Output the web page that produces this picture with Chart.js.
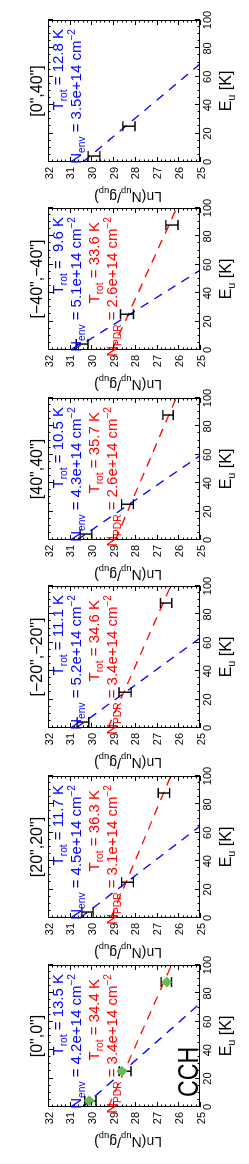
<!DOCTYPE html>
<html><head><meta charset="utf-8">
<script src="https://cdn.jsdelivr.net/npm/chart.js@4.4.0/dist/chart.umd.min.js"></script>
<style>
html,body{margin:0;padding:0;background:#fff;overflow:hidden;width:249px;height:1164px;}
#fig{position:absolute;left:0;top:0;width:1164px;height:249px;transform-origin:0 0;transform:translateY(1164px) rotate(-90deg);background:#fff;}
.panel{position:absolute;top:0;width:200px;height:249px;}
canvas{display:block;}
</style></head><body><div id="fig"></div>
<script>
// ---- data (panels in original left-to-right order) ----
const panelTitles = ['[0",0"]', '[20",20"]', '[\u221220",\u221220"]', '[40",40"]', '[\u221240",\u221240"]', '[0",40"]'];
const energyLevels = [4.2, 25.2, 88.0];
const lnObserved = [
  [30.05, 28.45, 26.55],
  [30.18, 28.34, 26.66],
  [30.39, 28.45, 26.56],
  [30.25, 28.34, 26.47],
  [30.43, 28.36, 26.29],
  [29.88, 28.27]
];
const lnErrors = [
  [0.26, 0.27, 0.24],
  [0.26, 0.27, 0.26],
  [0.27, 0.28, 0.26],
  [0.27, 0.27, 0.24],
  [0.27, 0.30, 0.28],
  [0.27, 0.28]
];
const modelEnergies = [4.4, 25.2, 88.0];
const modelLn = [30.10, 28.60, 26.53];
const tEnv = [13.5, 11.7, 11.1, 10.5, 9.6, 12.8];
const nEnv = ['4.2e+14', '4.5e+14', '5.2e+14', '4.3e+14', '5.1e+14', '3.5e+14'];
const envIntercept = [30.40, 30.53, 30.71, 30.66, 30.85, 30.39];
const tPdr = [34.4, 36.3, 34.6, 35.7, 33.6, null];
const nPdr = ['3.4e+14', '3.1e+14', '3.4e+14', '2.6e+14', '2.6e+14', null];
const pdrIntercept = [29.22, 29.10, 29.24, 28.90, 29.05, null];
const eTicks = [0, 20, 40, 60, 80, 100];
const lnTicks = [25, 26, 27, 28, 29, 30, 31, 32];
const moleculeLabel = 'CCH';

// ---- layout ----
const boxLeft = [57, 246, 436, 624, 814, 1002];
const LEFT_AXIS = 46, BOX_W = 142, CANVAS_W = 200, CANVAS_H = 249, TOP = 48, BOTTOM_AXIS = 49;
const FONT = '"Liberation Sans", Arial, Helvetica, sans-serif';

function richWidth(ctx, runs, size) {
  let w = 0;
  for (const r of runs) {
    const fs = r.s ? size * 0.68 : size;
    ctx.font = fs + 'px ' + FONT;
    w += ctx.measureText(r.t).width;
  }
  return w;
}
function drawRich(ctx, runs, x, y, size, color, align) {
  const w = richWidth(ctx, runs, size);
  let cx = align === 'right' ? x - w : (align === 'center' ? x - w / 2 : x);
  ctx.fillStyle = color;
  ctx.textBaseline = 'alphabetic';
  ctx.textAlign = 'left';
  for (const r of runs) {
    const fs = r.s ? size * 0.68 : size;
    ctx.font = fs + 'px ' + FONT;
    let dy = 0;
    if (r.s === 'sub') dy = size * 0.28;
    if (r.s === 'sup') dy = -size * 0.42;
    ctx.fillText(r.t, cx, y + dy);
    cx += ctx.measureText(r.t).width;
  }
}
function fmtT(t) { return (t < 10 ? ' ' : '') + t.toFixed(1); }

const framePlugin = {
  id: 'frame',
  afterDatasetDraw(chart, args) {
    const ds = chart.data.datasets[args.index];
    if (!ds.errors) return;
    const ctx = chart.ctx, ys = chart.scales.y;
    const meta = args.meta;
    ctx.save();
    ctx.strokeStyle = '#000';
    ctx.lineWidth = 1.4;
    meta.data.forEach((el, i) => {
      const v = ds.data[i].y, e = ds.errors[i];
      const y1 = ys.getPixelForValue(v + e), y2 = ys.getPixelForValue(v - e);
      ctx.beginPath();
      ctx.moveTo(el.x, y1); ctx.lineTo(el.x, y2);
      ctx.moveTo(el.x - 5, y1); ctx.lineTo(el.x + 5, y1);
      ctx.moveTo(el.x - 5, y2); ctx.lineTo(el.x + 5, y2);
      ctx.stroke();
    });
    ctx.restore();
  },
  afterDraw(chart) {
    const ctx = chart.ctx, ca = chart.chartArea;
    const xs = chart.scales.x, ys = chart.scales.y;
    const p = chart.options.plugins.frame;
    ctx.save();
    ctx.strokeStyle = '#000';
    ctx.lineWidth = 1;
    ctx.strokeRect(ca.left + 0.5, ca.top + 0.5, ca.right - ca.left - 1, ca.bottom - ca.top - 1);
    ctx.beginPath();
    // E_u ticks (major every 20, minor every 5)
    for (let k = 0; k < eTicks.length; k++) {
      const v0 = eTicks[k];
      const n = k < eTicks.length - 1 ? 4 : 1;
      for (let m = 0; m < n; m++) {
        const v = v0 + m * ((eTicks[1] - eTicks[0]) / 4);
        const px = Math.round(xs.getPixelForValue(v)) + 0.5;
        const len = m === 0 ? 5 : 2.5;
        ctx.moveTo(px, ca.bottom); ctx.lineTo(px, ca.bottom - len);
        ctx.moveTo(px, ca.top); ctx.lineTo(px, ca.top + len);
      }
    }
    // Ln ticks (major every 1, minor every 0.2)
    for (let k = 0; k < lnTicks.length; k++) {
      const v0 = lnTicks[k];
      const n = k < lnTicks.length - 1 ? 5 : 1;
      for (let m = 0; m < n; m++) {
        const v = v0 + m * 0.2;
        const py = Math.round(ys.getPixelForValue(v)) + 0.5;
        const len = m === 0 ? 5 : 2.5;
        ctx.moveTo(ca.left, py); ctx.lineTo(ca.left + len, py);
        ctx.moveTo(ca.right, py); ctx.lineTo(ca.right - len, py);
      }
    }
    ctx.stroke();

    const cx = (ca.left + ca.right) / 2;
    // panel title
    ctx.fillStyle = '#000';
    ctx.font = '16px ' + FONT;
    ctx.textAlign = 'center';
    ctx.textBaseline = 'alphabetic';
    ctx.fillText(p.title, cx, 42);
    // x-axis title
    drawRich(ctx, [{t: 'E'}, {t: 'u', s: 'sub'}, {t: ' [K]'}], cx, 231, 16, '#000', 'center');
    // y-axis title (rotated)
    ctx.save();
    ctx.translate(ca.left - 30, (ca.top + ca.bottom) / 2 + 4);
    ctx.rotate(-Math.PI / 2);
    drawRich(ctx, [{t: 'Ln(N'}, {t: 'up', s: 'sub'}, {t: '/g'}, {t: 'up', s: 'sub'}, {t: ')'}], 0, 0, 14, '#000', 'center');
    ctx.restore();
    // fit annotations
    const xr = ca.right - 9;
    drawRich(ctx, [{t: 'T'}, {t: 'rot', s: 'sub'}, {t: ' = ' + fmtT(p.tEnv) + ' K'}], xr, 63, 15, '#0000ff', 'right');
    drawRich(ctx, [{t: 'N'}, {t: 'env', s: 'sub'}, {t: ' = ' + p.nEnv + ' cm'}, {t: '\u22122', s: 'sup'}], xr, 81, 15, '#0000ff', 'right');
    if (p.tPdr != null) {
      drawRich(ctx, [{t: 'T'}, {t: 'rot', s: 'sub'}, {t: ' = ' + fmtT(p.tPdr) + ' K'}], xr - 5, 99, 15, '#ff0000', 'right');
      drawRich(ctx, [{t: 'N'}, {t: 'PDR', s: 'sub'}, {t: ' = ' + p.nPdr + ' cm'}, {t: '\u22122', s: 'sup'}], xr, 117, 15, '#ff0000', 'right');
    }
    if (p.label) {
      ctx.save();
      ctx.translate(ca.left + 10, 198);
      ctx.scale(0.8, 1);
      ctx.fillStyle = '#000';
      ctx.font = '29px ' + FONT;
      ctx.textAlign = 'left';
      ctx.textBaseline = 'alphabetic';
      ctx.fillText(p.label, 0, 0);
      ctx.restore();
    }
    ctx.restore();
  }
};

const fig = document.getElementById('fig');
panelTitles.forEach((title, i) => {
  const div = document.createElement('div');
  div.className = 'panel';
  div.style.left = (boxLeft[i] - LEFT_AXIS) + 'px';
  const cv = document.createElement('canvas');
  cv.width = CANVAS_W; cv.height = CANVAS_H;
  cv.style.width = CANVAS_W + 'px'; cv.style.height = CANVAS_H + 'px';
  div.appendChild(cv);
  fig.appendChild(div);

  const datasets = [];
  if (i === 0) {
    datasets.push({
      label: 'model', order: 0, showLine: false,
      data: modelEnergies.map((e, k) => ({x: e, y: modelLn[k]})),
      pointStyle: 'rectRot', pointRadius: 5.5, pointBackgroundColor: '#66bb55', pointBorderColor: '#66bb55', pointBorderWidth: 0
    });
  }
  datasets.push({
    label: 'observed', order: 1, showLine: false,
    data: lnObserved[i].map((v, k) => ({x: energyLevels[k], y: v})),
    errors: lnErrors[i], pointRadius: 0
  });
  datasets.push({
    label: 'env', order: 2, showLine: true, pointRadius: 0,
    borderColor: '#0000ff', borderWidth: 1.3, borderDash: [9, 7],
    data: [0, 100].map(e => ({x: e, y: envIntercept[i] - e / tEnv[i]}))
  });
  if (tPdr[i] != null) {
    datasets.push({
      label: 'pdr', order: 3, showLine: true, pointRadius: 0,
      borderColor: '#ff0000', borderWidth: 1.3, borderDash: [9, 7],
      data: [0, 100].map(e => ({x: e, y: pdrIntercept[i] - e / tPdr[i]}))
    });
  }

  new Chart(cv, {
    type: 'scatter',
    data: {datasets},
    plugins: [framePlugin],
    options: {
      responsive: false, animation: false, devicePixelRatio: 1,
      layout: {padding: {left: 0, right: CANVAS_W - LEFT_AXIS - BOX_W, top: TOP, bottom: 0}},
      plugins: {
        legend: {display: false}, tooltip: {enabled: false},
        frame: {title, tEnv: tEnv[i], nEnv: nEnv[i], tPdr: tPdr[i], nPdr: nPdr[i], label: i === 0 ? moleculeLabel : null}
      },
      scales: {
        x: {
          type: 'linear', position: 'bottom', min: eTicks[0], max: eTicks[eTicks.length - 1],
          afterBuildTicks: s => { s.ticks = eTicks.map(v => ({value: v})); },
          afterFit: s => { s.height = BOTTOM_AXIS; },
          grid: {display: false, drawTicks: false}, border: {display: false},
          ticks: {color: '#000', font: {family: FONT, size: 11}, padding: 1, maxRotation: 0, autoSkip: false}
        },
        y: {
          type: 'linear', position: 'left', min: lnTicks[0], max: lnTicks[lnTicks.length - 1],
          afterBuildTicks: s => { s.ticks = lnTicks.map(v => ({value: v})); },
          afterFit: s => { s.width = LEFT_AXIS; },
          grid: {display: false, drawTicks: false}, border: {display: false},
          ticks: {color: '#000', font: {family: FONT, size: 11}, padding: 5, labelOffset: 1.5, autoSkip: false}
        }
      }
    }
  });
});
</script></body></html>
